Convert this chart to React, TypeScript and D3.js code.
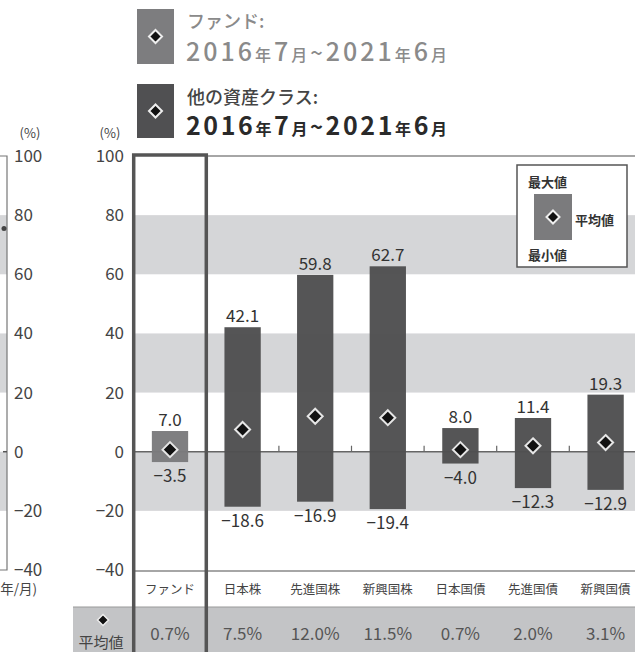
import React from 'react';
import * as d3 from 'd3';

const categories = ['ファンド', '日本株', '先進国株', '新興国株', '日本国債', '先進国債', '新興国債'];
const maxValues = [7.0, 42.1, 59.8, 62.7, 8.0, 11.4, 19.3];
const minValues = [-3.5, -18.6, -16.9, -19.4, -4.0, -12.3, -12.9];
const meanValues = [0.7, 7.5, 12.0, 11.5, 0.7, 2.0, 3.1];
const yTicks = [100, 80, 60, 40, 20, 0, -20, -40];
const bands: [number, number][] = [[60, 80], [20, 40], [-20, 0]];
// clipped right end of the neighbouring chart
const leftChartLast = [75.5];

const W = 635;
const H = 652;
const FONT = "'Noto Sans CJK JP', 'Noto Sans', sans-serif";

const diamond = (cx: number, cy: number, r: number) =>
  `M${cx},${cy - r}L${cx + r},${cy}L${cx},${cy + r}L${cx - r},${cy}Z`;

const fmt = (v: number) => (v < 0 ? '\u2212' + Math.abs(v).toFixed(1) : v.toFixed(1));

const DateLine: React.FC<{ x: number; y: number; fill: string; weight: number }> = ({ x, y, fill, weight }) => (
  <text x={x} y={y} fill={fill} fontWeight={weight} fontFamily={FONT} textLength={261} lengthAdjust="spacing">
    <tspan fontSize={25}>2016</tspan>
    <tspan fontSize={16}>年</tspan>
    <tspan fontSize={25}>7</tspan>
    <tspan fontSize={16}>月</tspan>
    <tspan fontSize={22}>~</tspan>
    <tspan fontSize={25}>2021</tspan>
    <tspan fontSize={16}>年</tspan>
    <tspan fontSize={25}>6</tspan>
    <tspan fontSize={16}>月</tspan>
  </text>
);

export default function App() {
  const y = d3.scaleLinear().domain([-40, 100]).range([570, 156]);
  const x = d3
    .scaleBand<string>()
    .domain(categories)
    .range([133.7, 133.7 + 72.6 * 7])
    .paddingInner(0.5)
    .paddingOuter(0.25);
  const step = x.step();
  const bw = x.bandwidth();
  const cx = (c: string) => (x(c) as number) + bw / 2;
  const cellLeft = (c: string) => (x(c) as number) - step * 0.25;

  const plotLeft = 133;
  const plotRight = W;
  const fundL = cellLeft(categories[0]);
  const fundR = fundL + step;

  return (
    <svg
      width={W}
      height={H}
      viewBox={`0 0 ${W} ${H}`}
      style={{ position: 'absolute', left: 0, top: 0, background: '#fff' }}
      fontFamily={FONT}
    >
      {/* legend at top */}
      <rect x={137} y={9} width={37} height={55} fill="#7d7d7f" />
      <path d={diamond(155.5, 36.5, 6.5)} fill="#111" stroke="#eee" strokeWidth={2} />
      <text x={187} y={28} fontSize={18} fill="#8a8a8a" fontWeight={500}>ファンド:</text>
      <DateLine x={186} y={61} fill="#8a8a8a" weight={500} />

      <rect x={137} y={84} width={37} height={54} fill="#505052" />
      <path d={diamond(155.5, 111, 6.5)} fill="#111" stroke="#eee" strokeWidth={2} />
      <text x={187} y={104} fontSize={18} fill="#444" fontWeight={500}>他の資産クラス:</text>
      <DateLine x={186} y={135} fill="#2a2a2a" weight={700} />

      {/* left neighbouring chart fragment */}
      {bands.map(([a, b], i) => (
        <rect key={'lb' + i} x={0} y={y(b)} width={7} height={y(a) - y(b)} fill="#d5d6d8" />
      ))}
      <path d={`M0,${y(100)}H7V${y(-40)}H0`} fill="none" stroke="#777" strokeWidth={1.2} />
      <line x1={3} x2={7} y1={y(0)} y2={y(0)} stroke="#555" strokeWidth={1.5} />
      {leftChartLast.map((v, i) => (
        <circle key={'lp' + i} cx={4} cy={y(v)} r={2.5} fill="#444" />
      ))}
      <text x={30} y={138} fontSize={13} fill="#444" textAnchor="middle">(%)</text>
      {yTicks.map((t) => (
        <text key={'ly' + t} x={14} y={y(t) + 6} fontSize={17} fill="#444">
          {t < 0 ? '\u2212' + Math.abs(t) : t}
        </text>
      ))}
      <text x={37} y={594} fontSize={13.5} fill="#444" textAnchor="end">年/月)</text>

      {/* main chart bands */}
      {bands.map(([a, b], i) => (
        <rect key={'b' + i} x={plotLeft} y={y(b)} width={plotRight - plotLeft} height={y(a) - y(b)} fill="#d5d6d8" />
      ))}

      {/* axis labels */}
      <text x={110} y={138} fontSize={13} fill="#444" textAnchor="middle">(%)</text>
      {yTicks.map((t) => (
        <text key={'y' + t} x={124} y={y(t) + 6} fontSize={17} fill="#444" textAnchor="end">
          {t < 0 ? '\u2212' + Math.abs(t) : t}
        </text>
      ))}

      {/* plot frame */}
      <line x1={fundR} x2={plotRight} y1={y(100)} y2={y(100)} stroke="#888" strokeWidth={1.5} />
      <line x1={plotLeft} x2={plotRight} y1={571} y2={571} stroke="#888" strokeWidth={1.5} />

      {/* zero line and category ticks */}
      <line x1={plotLeft} x2={plotRight} y1={y(0)} y2={y(0)} stroke="#666" strokeWidth={1.5} />
      {categories.slice(1).map((c, i) =>
        i === 0 ? null : (
          <line key={'t' + c} x1={cellLeft(c)} x2={cellLeft(c)} y1={y(0)} y2={y(0) - 6} stroke="#666" strokeWidth={1.2} />
        )
      )}

      {/* range bars */}
      {categories.map((c, i) => (
        <g key={'bar' + c}>
          <rect
            x={x(c)}
            y={y(maxValues[i])}
            width={bw}
            height={y(minValues[i]) - y(maxValues[i])}
            fill={i === 0 ? '#7b7b7d' : '#4f4f51'}
            opacity={0.97}
          />
          <path d={diamond(cx(c), y(meanValues[i]), 7.5)} fill="#111" stroke="#e6e6e6" strokeWidth={2} />
          <text x={cx(c)} y={y(maxValues[i]) - 5} fontSize={17} fill="#333" textAnchor="middle">
            {fmt(maxValues[i])}
          </text>
          <text x={cx(c)} y={y(minValues[i]) + 20} fontSize={17} fill="#333" textAnchor="middle">
            {fmt(minValues[i])}
          </text>
        </g>
      ))}

      {/* min/max/mean key */}
      <rect x={517} y={165} width={110} height={102} fill="#fff" stroke="#555" strokeWidth={1.5} />
      <text x={528} y={187} fontSize={13} fontWeight={700} fill="#333">最大値</text>
      <rect x={534} y={194} width={38} height={46} fill="#7b7b7d" />
      <path d={diamond(553, 217, 6.5)} fill="#111" stroke="#eee" strokeWidth={2} />
      <text x={575} y={225} fontSize={13} fontWeight={700} fill="#333">平均値</text>
      <text x={528} y={260} fontSize={13} fontWeight={700} fill="#333">最小値</text>

      {/* category row */}
      {categories.map((c) => (
        <text key={'cl' + c} x={cx(c)} y={594} fontSize={12.5} fill="#444" textAnchor="middle">
          {c}
        </text>
      ))}

      {/* mean value row */}
      <rect x={73} y={607} width={W - 73} height={H - 607} fill="#c3c4c6" />
      <line x1={73} x2={W} y1={607} y2={607} stroke="#999" strokeWidth={1} />
      <path d={diamond(103, 620, 5.5)} fill="#111" stroke="#eee" strokeWidth={1.5} />
      <text x={101} y={648} fontSize={15} fill="#444" textAnchor="middle">平均値</text>
      {categories.map((c, i) => (
        <text key={'mv' + c} x={cx(c)} y={640} fontSize={17} fill="#555" textAnchor="middle">
          {meanValues[i].toFixed(1)}%
        </text>
      ))}

      {/* fund highlight frame */}
      <path d={`M${fundL},${H}V${y(100) - 1}H${fundR}V${H}`} fill="none" stroke="#555" strokeWidth={3.5} />
    </svg>
  );
}
